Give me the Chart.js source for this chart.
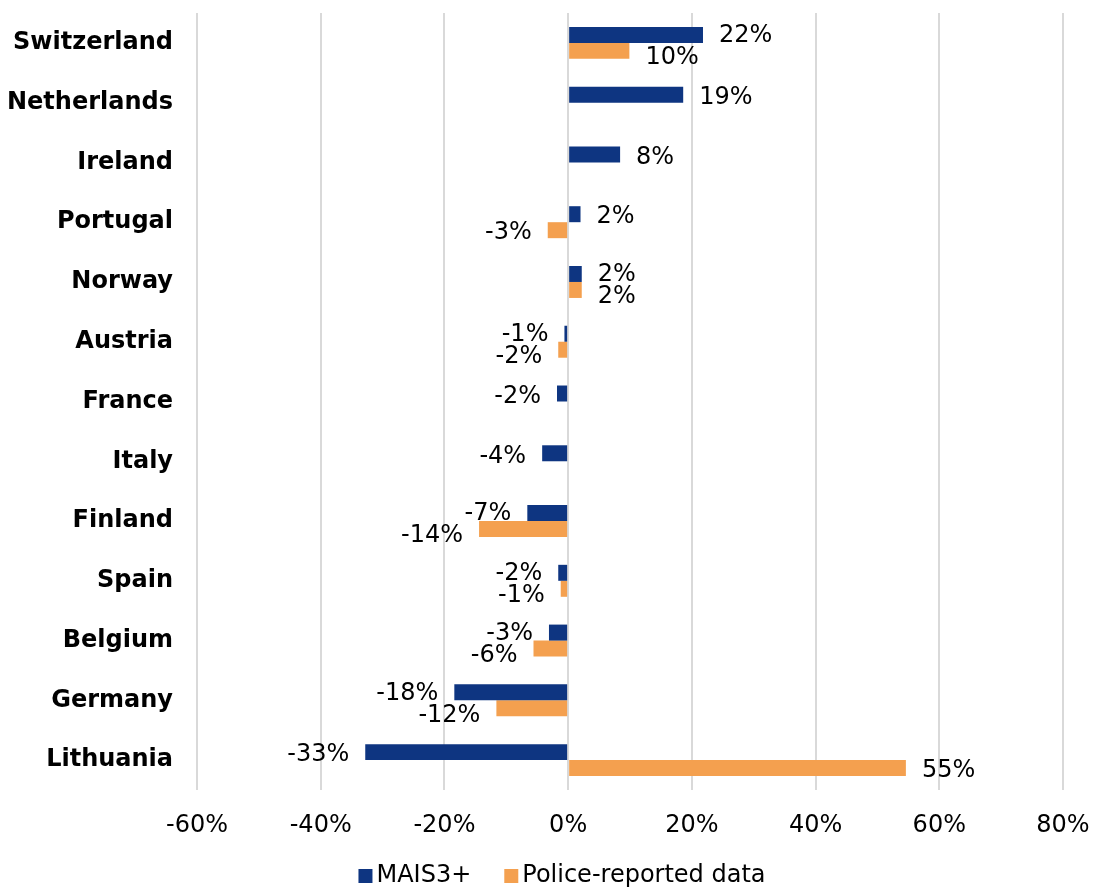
<!DOCTYPE html>
<html>
<head>
<meta charset="utf-8">
<script src="https://cdn.jsdelivr.net/npm/chart.js@4"></script>
<style>
  html, body { margin: 0; padding: 0; background: #fff; }
  #wrap { width: 1094px; height: 888px; }
</style>
</head>
<body>
<div id="wrap"><canvas id="chart"></canvas></div>
<script>
// ---- Data ----
const countries = ['Switzerland', 'Netherlands', 'Ireland', 'Portugal', 'Norway', 'Austria',
  'France', 'Italy', 'Finland', 'Spain', 'Belgium', 'Germany', 'Lithuania'];
const mais3 = [21.8, 18.6, 8.4, 2.0, 2.2, -0.6, -1.8, -4.2, -6.6, -1.6, -3.1, -18.4, -32.8];
const police = [9.9, null, null, -3.3, 2.2, -1.6, null, null, -14.4, -1.2, -5.6, -11.6, 54.6];
const xTicks = [-60, -40, -20, 0, 20, 40, 60, 80];

const FONT = "'DejaVu Sans', Verdana, sans-serif";
const FSIZE = 24;

// ---- Value labels beside bar ends ----
const valueLabels = {
  id: 'valueLabels',
  afterDatasetsDraw(chart) {
    const c = chart.ctx;
    const yScale = chart.scales.y;
    c.save();
    c.font = FSIZE + 'px ' + FONT;
    c.fillStyle = '#000';
    c.textBaseline = 'middle';
    countries.forEach((_, i) => {
      const vals = chart.data.datasets.map(ds => ds.data[i]);
      const center = yScale.getPixelForValue(i);
      // labels on the same side get nudged apart
      const sameSide = vals[0] != null && vals[1] != null && (vals[0] >= 0) === (vals[1] >= 0);
      chart.data.datasets.forEach((ds, d) => {
        const v = ds.data[i];
        if (v == null) return;
        const el = chart.getDatasetMeta(d).data[i];
        let y = el.y + 3;
        if (sameSide) y = d === 0 ? center - 7 : center + 15;
        const pos = v >= 0;
        c.textAlign = pos ? 'left' : 'right';
        c.fillText(Math.round(v) + '%', el.x + (pos ? 16 : -16), y);
      });
    });
    c.restore();
  }
};

// ---- Legend drawn under the axis (tighter than the built-in one) ----
const bottomLegend = {
  id: 'bottomLegend',
  afterDraw(chart) {
    const c = chart.ctx;
    c.save();
    c.font = FSIZE + 'px ' + FONT;
    c.textBaseline = 'middle';
    c.textAlign = 'left';
    const box = 14, gap = 4, spacing = 33;
    const items = chart.data.datasets.map(ds => ({
      text: ds.label, color: ds.backgroundColor, w: c.measureText(ds.label).width
    }));
    const total = items.reduce((s, it) => s + box + gap + it.w, 0) + spacing * (items.length - 1);
    let x = 562 - total / 2;
    const y = 876;
    items.forEach(it => {
      c.fillStyle = it.color;
      c.fillRect(x, y - box / 2, box, box);
      c.fillStyle = '#000';
      c.fillText(it.text, x + box + gap, y);
      x += box + gap + it.w + spacing;
    });
    c.restore();
  }
};

new Chart(document.getElementById('chart'), {
  type: 'bar',
  data: {
    labels: countries,
    datasets: [
      {
        label: 'MAIS3+',
        data: mais3,
        backgroundColor: '#0e3581',
        categoryPercentage: 0.535,
        barPercentage: 1,
      },
      {
        label: 'Police-reported data',
        data: police,
        backgroundColor: '#f4a04f',
        categoryPercentage: 0.535,
        barPercentage: 1,
      }
    ]
  },
  options: {
    indexAxis: 'y',
    responsive: true,
    maintainAspectRatio: false,
    animation: false,
    layout: { padding: { top: 13, right: 31, left: 0, bottom: 28 } },
    plugins: {
      tooltip: { enabled: false },
      legend: { display: false }
    },
    scales: {
      x: {
        min: -60,
        max: 80,
        afterBuildTicks: (s) => { s.ticks = xTicks.map(v => ({ value: v })); },
        afterFit: (s) => { s.height = 70; s.paddingLeft = 0; s.paddingRight = 0; },
        grid: { color: '#d9d9d9', lineWidth: 2, drawTicks: false },
        border: { display: false },
        ticks: {
          color: '#000',
          padding: 21,
          maxRotation: 0,
          font: { family: FONT, size: FSIZE },
          callback: (v) => v + '%'
        }
      },
      y: {
        afterFit: (s) => { s.width = 197; s.paddingTop = 0; s.paddingBottom = 0; },
        grid: { display: false, drawTicks: false },
        border: { display: false },
        ticks: {
          color: '#000',
          padding: 24,
          font: { family: FONT, size: FSIZE, weight: 'bold' }
        }
      }
    }
  },
  plugins: [valueLabels, bottomLegend]
});
</script>
</body>
</html>
